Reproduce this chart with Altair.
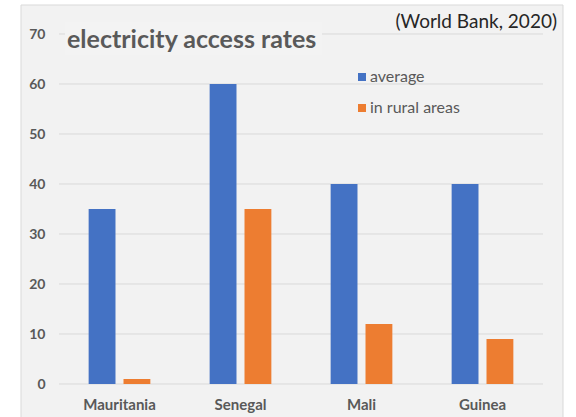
import altair as alt
import pandas as pd

countries = ["Mauritania", "Senegal", "Mali", "Guinea"]
average = [35, 60, 40, 40]
rural = [1, 35, 12, 9]
series_names = ["average", "in rural areas"]
y_ticks = [0, 10, 20, 30, 40, 50, 60, 70]
colors = ["#4472C4", "#ED7D31"]
title_text = "electricity access rates"
source_text = "(World Bank, 2020)"

rows = []
for c, a, r in zip(countries, average, rural):
    rows.append({"country": c, "series": series_names[0], "value": a})
    rows.append({"country": c, "series": series_names[1], "value": r})
df = pd.DataFrame(rows)
grid_df = pd.DataFrame({"value": y_ticks})
one = pd.DataFrame({"a": [0]})

W, H = 484, 350
FONT = "Lato"
GRAY = "#595959"

yscale = alt.Scale(domain=[0, 70], nice=False)
yaxis = alt.Axis(values=y_ticks, title=None, grid=False, domain=False, ticks=False,
                 labelFont=FONT, labelFontWeight="bold", labelFontSize=14,
                 labelColor=GRAY, labelPadding=14, zindex=2)

panel = alt.Chart(one).mark_rect(fill="#f2f2f2", stroke="#d9d9d9", strokeWidth=1).encode(
    x=alt.value(-38), x2=alt.value(504), y=alt.value(-29), y2=alt.value(400))

grid = alt.Chart(grid_df).mark_rule(color="#d9d9d9", strokeWidth=1).encode(
    y=alt.Y("value:Q", scale=yscale, axis=yaxis),
    x=alt.value(0), x2=alt.value(W))

title_box = alt.Chart(one).mark_rect(fill="#f3f3f3").encode(
    x=alt.value(6), x2=alt.value(263), y=alt.value(-12), y2=alt.value(21))

bars = alt.Chart(df).mark_bar().encode(
    x=alt.X("country:N", sort=countries,
            scale=alt.Scale(paddingInner=0.49, paddingOuter=0.245),
            axis=alt.Axis(title=None, domain=False, ticks=False, grid=False, labelAngle=0,
                          labelFont=FONT, labelFontWeight="bold", labelFontSize=15,
                          labelColor=GRAY, labelPadding=13, zindex=2)),
    xOffset=alt.XOffset("series:N", sort=series_names,
                        scale=alt.Scale(paddingInner=0.23, paddingOuter=0)),
    y=alt.Y("value:Q", scale=yscale, axis=yaxis),
    color=alt.Color("series:N", sort=series_names,
                    scale=alt.Scale(domain=series_names, range=colors),
                    legend=alt.Legend(orient="none", legendX=295, legendY=35, title=None,
                                      symbolType="square", symbolSize=64, symbolStrokeWidth=0,
                                      labelFontSize=16, labelColor=GRAY, labelFont=FONT,
                                      rowPadding=15, labelOffset=0, padding=0, zindex=2)),
)

title = alt.Chart(one).mark_text(align="left", baseline="middle", fontSize=25,
                                 fontWeight="bold", font=FONT, color=GRAY).encode(
    x=alt.value(8), y=alt.value(6), text=alt.value(title_text))

source = alt.Chart(one).mark_text(align="right", baseline="middle", fontSize=19,
                                  font=FONT, color="#262626").encode(
    x=alt.value(498), y=alt.value(-12), text=alt.value(source_text))

chart = alt.layer(panel, grid, title_box, bars, title, source).properties(
    width=W, height=H,
    autosize=alt.AutoSizeParams(type="none"),
    padding={"left": 59, "top": 34, "right": 33, "bottom": 33},
    background="white",
).configure_view(stroke=None)

chart.save("out.html", embed_options={"renderer": "svg", "actions": False})
